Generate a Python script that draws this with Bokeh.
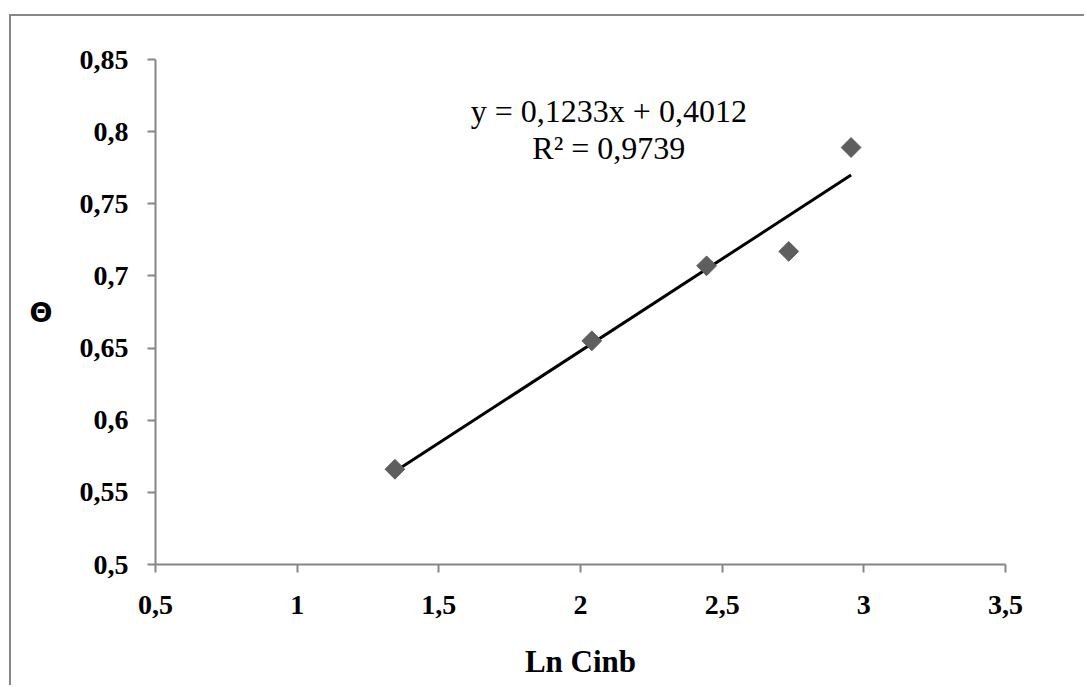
import numpy as np
from bokeh.plotting import figure
from bokeh.models import Range1d, FixedTicker, Label
from bokeh.embed import file_html
from bokeh.resources import INLINE

# data
ln_cinb = [1.345, 2.04, 2.445, 2.735, 2.955]
theta = [0.566, 0.655, 0.707, 0.717, 0.789]

x_ticks = [0.5, 1.0, 1.5, 2.0, 2.5, 3.0, 3.5]
x_tick_labels = ["0,5", "1", "1,5", "2", "2,5", "3", "3,5"]
y_ticks = [0.5, 0.55, 0.6, 0.65, 0.7, 0.75, 0.8, 0.85]
y_tick_labels = ["0,5", "0,55", "0,6", "0,65", "0,7", "0,75", "0,8", "0,85"]

equation_text = "y = 0,1233x + 0,4012"
r2_text = "R² = 0,9739"
x_title = "Ln Cinb"
y_title = "Θ"

p = figure(frame_width=850, frame_height=505,
           min_border_left=144, min_border_top=43,
           min_border_right=81, min_border_bottom=123,
           x_range=Range1d(x_ticks[0], x_ticks[-1]),
           y_range=Range1d(y_ticks[0], y_ticks[-1]),
           output_backend="svg", toolbar_location=None)
p.margin = (16, 0, 0, 11)
p.styles = {"box-shadow": "-2px -2px 0 0 #878787",
            "background-color": "white",
            "clip-path": "inset(-2px 0px 0px -2px)"}

p.outline_line_color = None
p.xgrid.visible = False
p.ygrid.visible = False
p.background_fill_color = "white"
p.border_fill_color = "white"

axis_color = "#868686"
for ax in (p.xaxis[0], p.yaxis[0]):
    ax.axis_line_color = axis_color
    ax.axis_line_width = 2
    ax.major_tick_line_color = axis_color
    ax.major_tick_line_width = 2
    ax.major_tick_out = 8
    ax.major_tick_in = 0
    ax.minor_tick_line_color = None
    ax.major_label_text_font = "Liberation Serif"
    ax.major_label_text_font_style = "bold"
    ax.major_label_text_font_size = "28px"
    ax.major_label_text_color = "black"

p.xaxis.ticker = FixedTicker(ticks=x_ticks)
p.yaxis.ticker = FixedTicker(ticks=y_ticks)
p.xaxis.major_label_overrides = dict(zip(x_ticks, x_tick_labels))
p.yaxis.major_label_overrides = dict(zip(y_ticks, y_tick_labels))
p.xaxis.major_label_standoff = 23
p.yaxis.major_label_standoff = 19

p.xaxis.axis_label = x_title
p.xaxis.axis_label_text_font = "Liberation Serif"
p.xaxis.axis_label_text_font_style = "bold"
p.xaxis.axis_label_text_font_size = "31px"
p.xaxis.axis_label_text_color = "black"
p.xaxis.axis_label_standoff = 27

p.yaxis.axis_label = y_title
p.yaxis.axis_label_orientation = "horizontal"
p.yaxis.axis_label_text_font = "DejaVu Sans"
p.yaxis.axis_label_text_font_style = "bold"
p.yaxis.axis_label_text_font_size = "27px"
p.yaxis.axis_label_text_color = "black"
p.yaxis.axis_label_standoff = 24

# linear trend line fitted to the data
slope, intercept = np.polyfit(ln_cinb, theta, 1)
x_fit = [min(ln_cinb), max(ln_cinb)]
y_fit = [slope * v + intercept for v in x_fit]
p.line(x_fit, y_fit, line_color="black", line_width=3)

p.scatter(ln_cinb, theta, marker="square", size=14, angle=np.pi / 4,
          fill_color="#5e5e5e", line_color="#5e5e5e")

p.add_layout(Label(x=2.1, y=0.8140, text=equation_text, text_align="center",
                   text_baseline="alphabetic", text_font="Liberation Serif",
                   text_font_size="32px", text_color="black"))
p.add_layout(Label(x=2.1, y=0.7890, text=r2_text, text_align="center",
                   text_baseline="alphabetic", text_font="Liberation Serif",
                   text_font_size="32px", text_color="black"))

open("out.html", "w").write(file_html(p, INLINE))
